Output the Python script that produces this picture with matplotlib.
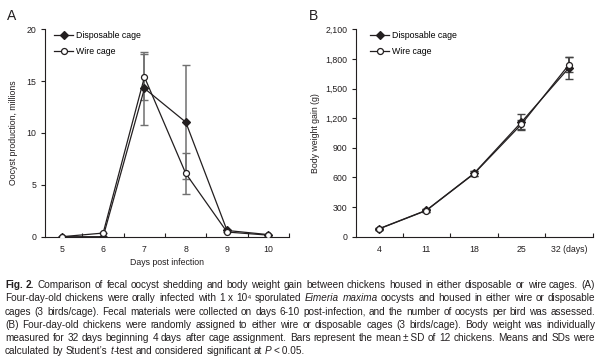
import matplotlib
matplotlib.use("Agg")
import matplotlib.pyplot as plt
from matplotlib.ticker import FuncFormatter, FixedLocator

plt.rcParams["font.family"] = ["Liberation Sans", "DejaVu Sans"]
INK = "#231f20"

# ── Panel A: oocyst shedding (millions) ───────────────────────────────────
days_a = [5, 6, 7, 8, 9, 10]
disp_a = [0.0, 0.0, 14.3, 11.05, 0.6, 0.2]
disp_a_sd = [0, 0, 3.5, 5.5, 0, 0]
wire_a = [0.0, 0.35, 15.4, 6.1, 0.45, 0.15]
wire_a_sd = [0, 0, 2.25, 2.0, 0, 0]

# ── Panel B: body weight gain (g) ─────────────────────────────────────────
days_b = ["4", "11", "18", "25", "32 (days)"]
disp_b = [80, 268, 640, 1160, 1710]
disp_b_sd = [10, 15, 30, 80, 112]
wire_b = [78, 265, 636, 1138, 1742]
wire_b_sd = [10, 15, 25, 45, 75]

caption = [
    "**Fig.** **2.** Comparison of fecal oocyst shedding and body weight gain between chickens housed in either disposable or wire cages. (A)",
    "Four-day-old chickens were orally infected with 1 x 10\u2074 sporulated *Eimeria* *maxima* oocysts and housed in either wire or disposable",
    "cages (3 birds/cage). Fecal materials were collected on days 6-10 post-infection, and the number of oocysts per bird was assessed.",
    "(B) Four-day-old chickens were randomly assigned to either wire or disposable cages (3 birds/cage). Body weight was individually",
    "measured for 32 days beginning 4 days after cage assignment. Bars represent the mean\u2009\u00b1\u2009SD of 12 chickens. Means and SDs were",
    "calculated by Student\u2019s *t*-test and considered significant at *P*\u2009<\u20090.05.",
]

FS = 6.3      # chart text
CFS = 7.2     # caption text
W, H = 600, 361
fig = plt.figure(figsize=(W / 100, H / 100), dpi=100)


def style_axes(ax):
    for s in ("top", "right"):
        ax.spines[s].set_visible(False)
    for s in ("left", "bottom"):
        ax.spines[s].set_color(INK)
        ax.spines[s].set_linewidth(0.8)
    ax.tick_params(axis="y", direction="out", length=3, width=0.8, colors=INK,
                   labelsize=FS, pad=3)
    ax.tick_params(axis="x", which="major", length=0, labelsize=FS, pad=6, colors=INK)
    ax.tick_params(axis="x", which="minor", direction="in", length=3, width=0.8, colors=INK)


def draw_series(ax, x, y, sd, marker, face, ecol):
    ax.errorbar(x, y, yerr=sd, fmt="none", ecolor=ecol, elinewidth=1.1,
                capsize=3, capthick=1.0, zorder=2)
    line, = ax.plot(x, y, color=INK, lw=0.9, marker=marker, ms=4.3,
                    mfc=face, mec=INK, mew=0.9, zorder=3)
    return line


# Panel A
axA = fig.add_axes([44.5 / W, 1 - 236.7 / H, (289 - 44.5) / W, 207.4 / H])
style_axes(axA)
la = draw_series(axA, days_a, disp_a, disp_a_sd, "D", INK, "#707070")
lb = draw_series(axA, days_a, wire_a, wire_a_sd, "o", "white", "#707070")
axA.set_xlim(4.58, 10.5)
axA.set_ylim(0, 20)
axA.set_yticks([0, 5, 10, 15, 20])
axA.set_xticks(days_a)
axA.xaxis.set_minor_locator(FixedLocator([d + 0.5 for d in days_a]))
axA.set_xlabel("Days post infection", fontsize=FS, color=INK, labelpad=3)
axA.set_ylabel("Oocyst production, millions", fontsize=FS, color=INK, labelpad=6)
axA.legend([la, lb], ["Disposable cage", "Wire cage"], loc="upper left",
           bbox_to_anchor=(0.039, 0.99), frameon=False, fontsize=FS, borderpad=0,
           borderaxespad=0, handlelength=2.2, handletextpad=0.35, labelspacing=0.8)

# Panel B
axB = fig.add_axes([356 / W, 1 - 236.7 / H, (592.7 - 356) / W, 207.4 / H])
style_axes(axB)
xb = list(range(len(days_b)))
lc = draw_series(axB, xb, disp_b, disp_b_sd, "D", INK, "#444444")
ld = draw_series(axB, xb, wire_b, wire_b_sd, "o", "white", "#444444")
axB.set_xlim(-0.48, 4.5)
axB.set_ylim(0, 2100)
axB.set_yticks(range(0, 2101, 300))
axB.yaxis.set_major_formatter(FuncFormatter(lambda v, p: f"{int(v):,}"))
axB.set_xticks(xb)
axB.set_xticklabels(days_b)
axB.xaxis.set_minor_locator(FixedLocator([i + 0.5 for i in xb]))
axB.set_ylabel("Body weight gain (g)", fontsize=FS, color=INK, labelpad=4)
axB.legend([lc, ld], ["Disposable cage", "Wire cage"], loc="upper left",
           bbox_to_anchor=(0.059, 0.99), frameon=False, fontsize=FS, borderpad=0,
           borderaxespad=0, handlelength=2.2, handletextpad=0.35, labelspacing=0.8)

fig.text(7 / W, 1 - 20 / H, "A", fontsize=10, color=INK, va="baseline")
fig.text(309 / W, 1 - 20 / H, "B", fontsize=10, color=INK, va="baseline")


# ── justified caption, word by word ───────────────────────────────────────
def parse_word(w):
    pieces = []
    for i, chunk in enumerate(w.replace("**", "\x01").split("\x01")):
        if i % 2 == 1:
            pieces.append((chunk, "bold"))
            continue
        for j, sub in enumerate(chunk.split("*")):
            if sub:
                pieces.append((sub, "italic" if j % 2 == 1 else "normal"))
    return [p for p in pieces if p[0]]


renderer = fig.canvas.get_renderer()
m1 = fig.text(0, 0, "a a", fontsize=CFS)
m2 = fig.text(0, 0, "aa", fontsize=CFS)
space = m1.get_window_extent(renderer).width - m2.get_window_extent(renderer).width
m1.remove()
m2.remove()

x0, x1 = 5, 595
base_y = 288
line_h = 13.3
for k, line in enumerate(caption):
    words = []
    for w in line.split(" "):
        objs = []
        for txt, st in parse_word(w):
            t = fig.text(0, 0, txt, fontsize=CFS, color=INK, va="baseline",
                         fontweight="bold" if st == "bold" else "normal",
                         fontstyle="italic" if st == "italic" else "normal")
            objs.append(t)
        words.append(objs)
    widths = [[o.get_window_extent(renderer).width for o in objs] for objs in words]
    total = sum(sum(ws) for ws in widths)
    last = k == len(caption) - 1
    gap = space if last else max((x1 - x0 - total) / (len(words) - 1), space * 0.6)
    x = x0
    y = 1 - (base_y + k * line_h) / H
    for objs, ws in zip(words, widths):
        for o, wpx in zip(objs, ws):
            o.set_position((x / W, y))
            x += wpx
        x += gap

fig.savefig("out.png", dpi=100)
